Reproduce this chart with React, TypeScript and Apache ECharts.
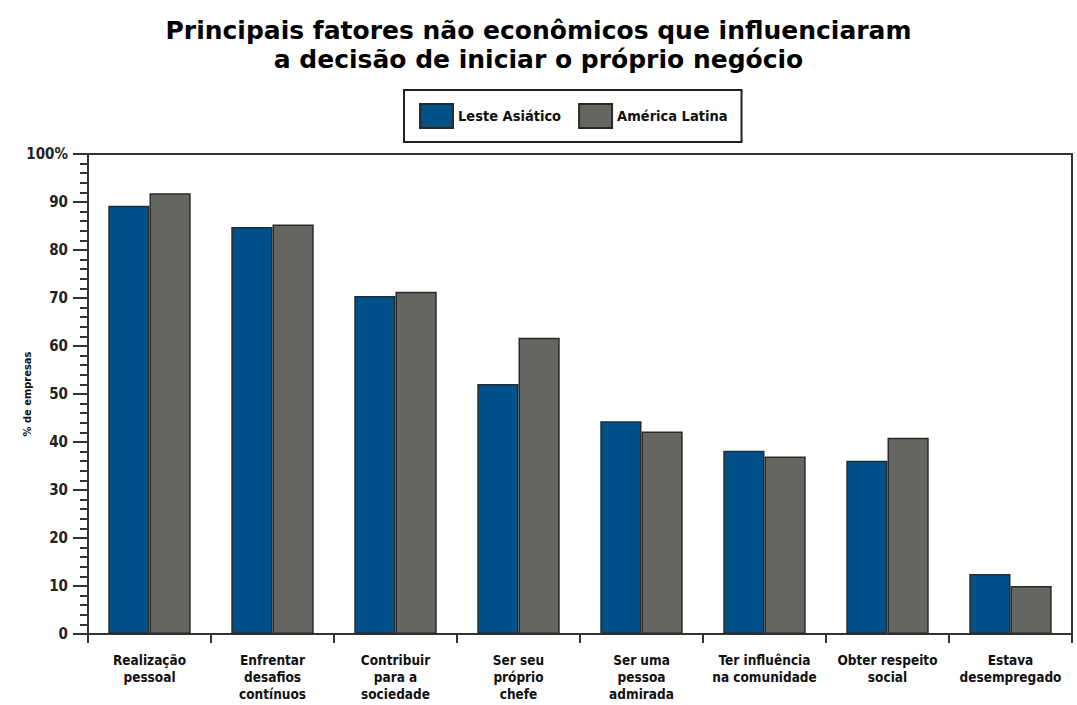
import React, { useEffect, useRef } from "react";
import * as echarts from "echarts";

const titleText = "Principais fatores não econômicos que influenciaram\na decisão de iniciar o próprio negócio";
const categories = [
  "Realização\npessoal",
  "Enfrentar\ndesafios\ncontínuos",
  "Contribuir\npara a\nsociedade",
  "Ser seu\npróprio\nchefe",
  "Ser uma\npessoa\nadmirada",
  "Ter influência\nna comunidade",
  "Obter respeito\nsocial",
  "Estava\ndesempregado",
];
const seriesNames = ["Leste Asiático", "América Latina"];
const lesteAsiatico = [89.2, 84.8, 70.4, 52.1, 44.3, 38.2, 36.1, 12.5];
const americaLatina = [91.8, 85.3, 71.3, 61.7, 42.2, 37.0, 40.9, 10.0];
const yAxisName = "% de empresas";

const FONT = "'Liberation Sans Narrow', 'DejaVu Sans Condensed', 'Liberation Sans', sans-serif";

export default function App() {
  const ref = useRef<HTMLDivElement>(null);
  useEffect(() => {
    if (!ref.current) return;
    const chart = echarts.init(ref.current, null, { renderer: "svg" });
    const barBorder = { borderColor: "#2a2a2a", borderWidth: 1.5 };
    chart.setOption({
      animation: false,
      backgroundColor: "#ffffff",
      title: {
        text: titleText,
        left: "center",
        top: 11,
        textStyle: {
          fontFamily: "'DejaVu Sans', Verdana, sans-serif",
          fontWeight: "bold",
          fontSize: 25,
          lineHeight: 29,
          color: "#000",
        },
      },
      legend: {
        data: seriesNames,
        left: 404,
        top: 90,
        orient: "horizontal",
        icon: "rect",
        itemWidth: 33,
        itemHeight: 24,
        itemGap: 17,
        padding: [13, 14, 13, 15],
        borderColor: "#222",
        borderWidth: 2,
        textStyle: {
          fontFamily: FONT,
          fontWeight: "bold",
          fontSize: 14.5,
          color: "#111",
        },
      },
      grid: {
        left: 88,
        right: 5,
        top: 154,
        bottom: 71,
        show: true,
        outerBoundsMode: "none",
        containLabel: false,
        borderColor: "#333",
        borderWidth: 2,
        backgroundColor: "transparent",
      },
      graphic: [
        {
          type: "line",
          shape: { x1: 88, y1: 634, x2: 88, y2: 643 },
          style: { stroke: "#333", lineWidth: 2 },
        },
      ],
      xAxis: {
        type: "category",
        data: categories,
        axisLine: { show: true, lineStyle: { color: "#333", width: 2 } },
        axisTick: { show: true, interval: 0, length: 9, lineStyle: { color: "#333", width: 2 } },
        axisLabel: {
          interval: 0,
          margin: 17,
          fontFamily: FONT,
          fontWeight: "bold",
          fontSize: 13.5,
          lineHeight: 17,
          color: "#111",
        },
      },
      yAxis: {
        type: "value",
        min: 0,
        max: 100,
        interval: 10,
        name: yAxisName,
        nameLocation: "middle",
        nameRotate: 90,
        nameGap: 55,
        nameMoveOverlap: false,
        nameTextStyle: { fontFamily: FONT, fontWeight: "bold", fontSize: 11, color: "#111" },
        splitLine: { show: false },
        axisLine: { show: true, lineStyle: { color: "#333", width: 2 } },
        axisTick: { show: true, length: 15, lineStyle: { color: "#333", width: 2 } },
        minorTick: { show: true, splitNumber: 5, length: 8, lineStyle: { color: "#333", width: 2 } },
        axisLabel: {
          margin: 20,
          fontFamily: FONT,
          fontWeight: "bold",
          fontSize: 15,
          color: "#222",
          formatter: (v: number) => (v === 100 ? "100%" : String(v)),
        },
      },
      series: [
        {
          name: seriesNames[0],
          type: "bar",
          data: lesteAsiatico,
          barGap: "0%",
          barCategoryGap: "33%",
          itemStyle: { color: "#00508a", ...barBorder },
        },
        {
          name: seriesNames[1],
          type: "bar",
          data: americaLatina,
          barGap: "0%",
          barCategoryGap: "33%",
          itemStyle: { color: "#646662", ...barBorder },
        },
      ],
    });
    return () => chart.dispose();
  }, []);
  return <div ref={ref} style={{ width: 1077, height: 705, position: "absolute", left: 0, top: 0 }} />;
}
